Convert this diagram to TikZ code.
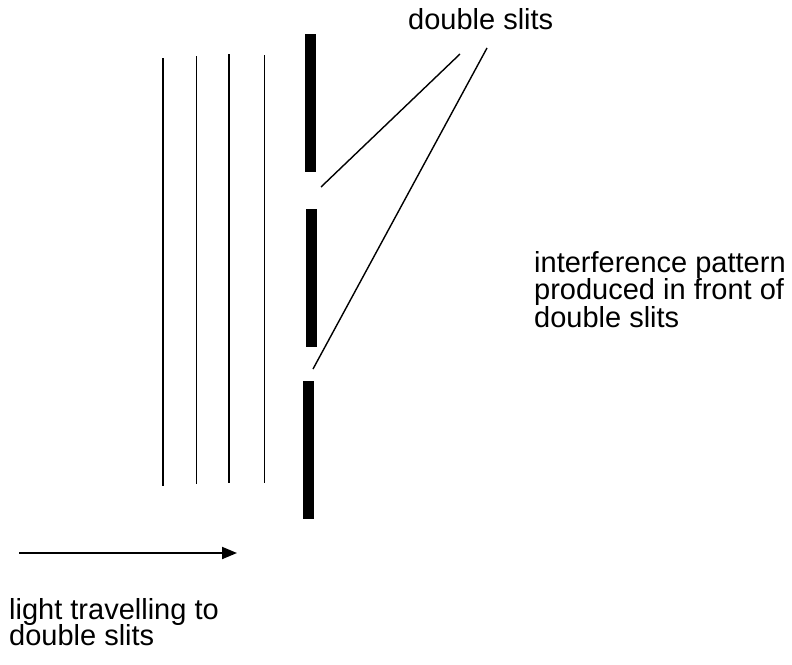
\documentclass[tikz,border=0pt]{standalone}
\usepackage{fontspec}
\setmainfont{Liberation Sans}
\usetikzlibrary{arrows.meta}
\newcommand\myfontA{\fontsize{29}{27.5}\selectfont\lineskiplimit=-20pt\relax}
\newcommand\myfontB{\fontsize{29}{26}\selectfont\lineskiplimit=-20pt\relax}
\begin{document}
\begin{tikzpicture}[x=1pt,y=-1pt,
  lbl/.style={anchor=base west,inner sep=0pt,align=left,font=\myfontA},
  wave/.style={line width=1.5pt},
  bar/.style={fill=black,draw=none},
  leader/.style={line width=1.4pt},
  travel/.style={line width=2pt,-{Triangle[length=15pt,width=12pt]}}]
\useasboundingbox (0,0) rectangle (792,664);
% wavefronts
\coordinate (w1t) at (163,58);  \coordinate (w1b) at (163,486);
\coordinate (w2t) at (196.5,56);\coordinate (w2b) at (196.5,484);
\coordinate (w3t) at (229,54);  \coordinate (w3b) at (229,483);
\coordinate (w4t) at (264.5,55);\coordinate (w4b) at (264.5,483);
\draw[wave] (w1t) -- (w1b);
\draw[wave] (w2t) -- (w2b);
\draw[wave] (w3t) -- (w3b);
\draw[wave] (w4t) -- (w4b);
% barrier
\path[bar] (305,34) rectangle (316,172);
\path[bar] (306,209) rectangle (317,347);
\path[bar] (303,381) rectangle (314,519);
% labels (base = baseline of last line)
\node[lbl] (ds) at (408,29) {double slits};
\node[lbl] (ip) at (534,327) {interference pattern\\produced in front of\\double slits};
\node[lbl,font=\myfontB] (lt) at (9,645) {light travelling to\\double slits};
% leaders
\coordinate (s1) at (321,187);
\coordinate (s2) at (313,369);
\coordinate (d1) at (460,54);
\coordinate (d2) at (487,48);
\draw[leader] (s1) -- (d1);
\draw[leader] (d2) -- (s2);
% arrow
\coordinate (a1) at (19,553);
\coordinate (a2) at (237,553);
\draw[travel] (a1) -- (a2);
\end{tikzpicture}
\end{document}
